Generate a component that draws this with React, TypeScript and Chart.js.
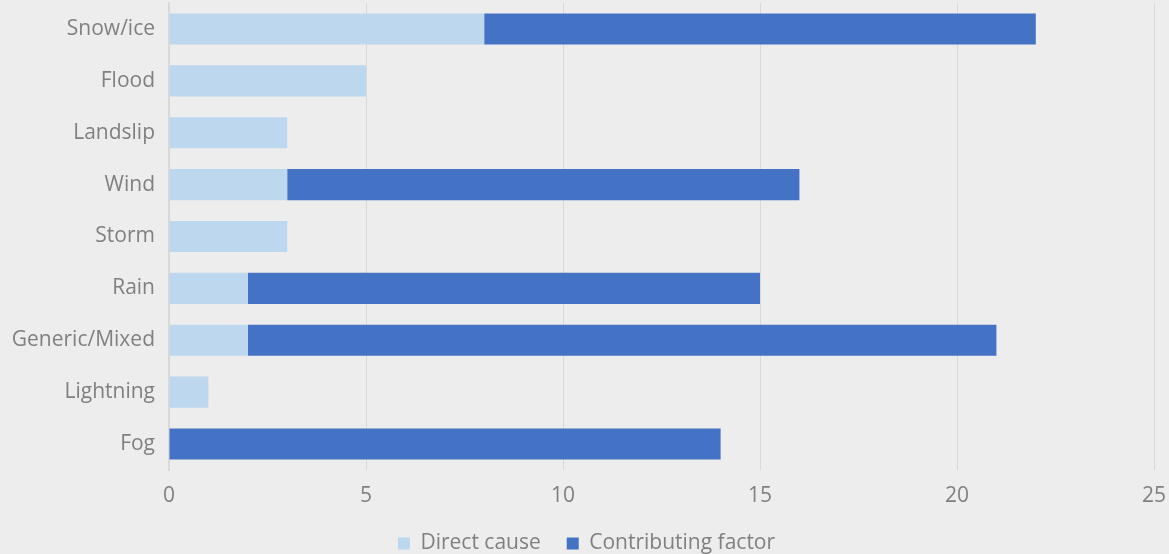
import React, { useEffect, useRef } from "react";
import { Chart, registerables } from "chart.js";

Chart.register(...registerables);

const categories = ["Snow/ice", "Flood", "Landslip", "Wind", "Storm", "Rain", "Generic/Mixed", "Lightning", "Fog"];
const directCause = [8, 5, 3, 3, 3, 2, 2, 1, 0];
const contributingFactor = [14, 0, 0, 13, 0, 13, 19, 0, 14];
const seriesNames = ["Direct cause", "Contributing factor"];

const bgPlugin = {
  id: "bg",
  beforeDraw(chart: any) {
    const ctx = chart.ctx;
    ctx.save();
    ctx.fillStyle = "#ededed";
    ctx.fillRect(0, 0, chart.width, chart.height);
    ctx.restore();
  },
};

const legendHeightPlugin = {
  id: "legendHeight",
  beforeLayout(chart: any) {
    const lg = chart.legend;
    if (lg && !lg._patched) {
      const orig = lg.fit.bind(lg);
      lg.fit = function () {
        orig();
        this.height = 47;
      };
      lg._patched = true;
    }
  },
};

export default function App() {
  const ref = useRef<HTMLCanvasElement>(null);
  useEffect(() => {
    document.body.style.margin = "0";
    document.body.style.background = "#ededed";
    const font = { family: "'Open Sans', 'Noto Sans', sans-serif", size: 21 };
    const chart = new Chart(ref.current!, {
      type: "bar",
      data: {
        labels: categories,
        datasets: [
          { label: seriesNames[0], data: directCause, backgroundColor: "#bdd7ee", categoryPercentage: 0.6, barPercentage: 1 },
          { label: seriesNames[1], data: contributingFactor, backgroundColor: "#4472c4", categoryPercentage: 0.6, barPercentage: 1 },
        ],
      },
      options: {
        indexAxis: "y",
        animation: false,
        responsive: false,
        maintainAspectRatio: false,
        layout: { padding: { top: 3, right: 0, left: 4, bottom: 0 } },
        scales: {
          x: {
            stacked: true,
            min: 0,
            max: 25,
            ticks: { stepSize: 5, color: "#808080", font, padding: 13 },
            grid: { color: "#d9d9d9", lineWidth: 1, drawTicks: false },
            border: { display: false },
            afterFit: (s: any) => {
              s.height = 37;
              s.paddingRight = 15;
            },
          },
          y: {
            stacked: true,
            ticks: { color: "#808080", font, padding: 14 },
            grid: { display: false, drawTicks: false },
            border: { display: true, color: "#d9d9d9", width: 2 },
            afterFit: (s: any) => {
              s.paddingTop = 0;
              s.paddingBottom = 0;
              s.width = 165;
            },
          },
        },
        plugins: {
          legend: {
            position: "bottom",
            labels: { color: "#808080", font, boxWidth: 12, boxHeight: 12, padding: 26 },
          },
          tooltip: { enabled: false },
        },
      },
      plugins: [bgPlugin, legendHeightPlugin],
    });
    return () => chart.destroy();
  }, []);
  return <canvas ref={ref} width={1169} height={554} style={{ display: "block" }} />;
}
